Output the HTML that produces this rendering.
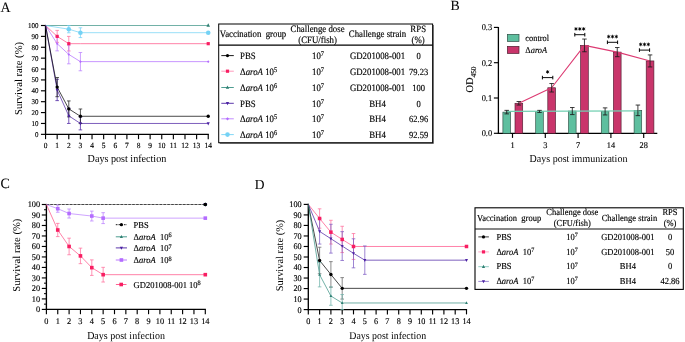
<!DOCTYPE html><html><head><meta charset="utf-8"><style>html,body{margin:0;padding:0;background:#fff;overflow:hidden}svg{display:block;will-change:transform}text{font-family:"Liberation Serif",serif;text-rendering:geometricPrecision;fill:#000;stroke:#000;}</style></head><body>
<svg width="685" height="342" viewBox="0 0 685 342">
<rect width="685" height="342" fill="#fff"/>
<text transform="translate(0.60,11.50) scale(1,1.02)" font-size="14" text-anchor="start" stroke-width="0.04" >A</text>
<line x1="45.55" y1="24.90" x2="45.55" y2="134.95" stroke="#000" stroke-width="1.35" />
<line x1="44.95" y1="134.35" x2="208.83" y2="134.35" stroke="#000" stroke-width="1.35" />
<line x1="40.95" y1="134.35" x2="45.55" y2="134.35" stroke="#000" stroke-width="1.15" />
<text transform="translate(38.55,136.85) scale(1,1.05)" font-size="7" text-anchor="end" stroke-width="0.14" >0</text>
<line x1="40.95" y1="123.46" x2="45.55" y2="123.46" stroke="#000" stroke-width="1.15" />
<text transform="translate(38.55,125.96) scale(1,1.05)" font-size="7" text-anchor="end" stroke-width="0.14" >10</text>
<line x1="40.95" y1="112.58" x2="45.55" y2="112.58" stroke="#000" stroke-width="1.15" />
<text transform="translate(38.55,115.08) scale(1,1.05)" font-size="7" text-anchor="end" stroke-width="0.14" >20</text>
<line x1="40.95" y1="101.69" x2="45.55" y2="101.69" stroke="#000" stroke-width="1.15" />
<text transform="translate(38.55,104.19) scale(1,1.05)" font-size="7" text-anchor="end" stroke-width="0.14" >30</text>
<line x1="40.95" y1="90.81" x2="45.55" y2="90.81" stroke="#000" stroke-width="1.15" />
<text transform="translate(38.55,93.31) scale(1,1.05)" font-size="7" text-anchor="end" stroke-width="0.14" >40</text>
<line x1="40.95" y1="79.92" x2="45.55" y2="79.92" stroke="#000" stroke-width="1.15" />
<text transform="translate(38.55,82.42) scale(1,1.05)" font-size="7" text-anchor="end" stroke-width="0.14" >50</text>
<line x1="40.95" y1="69.04" x2="45.55" y2="69.04" stroke="#000" stroke-width="1.15" />
<text transform="translate(38.55,71.54) scale(1,1.05)" font-size="7" text-anchor="end" stroke-width="0.14" >60</text>
<line x1="40.95" y1="58.15" x2="45.55" y2="58.15" stroke="#000" stroke-width="1.15" />
<text transform="translate(38.55,60.65) scale(1,1.05)" font-size="7" text-anchor="end" stroke-width="0.14" >70</text>
<line x1="40.95" y1="47.27" x2="45.55" y2="47.27" stroke="#000" stroke-width="1.15" />
<text transform="translate(38.55,49.77) scale(1,1.05)" font-size="7" text-anchor="end" stroke-width="0.14" >80</text>
<line x1="40.95" y1="36.38" x2="45.55" y2="36.38" stroke="#000" stroke-width="1.15" />
<text transform="translate(38.55,38.88) scale(1,1.05)" font-size="7" text-anchor="end" stroke-width="0.14" >90</text>
<line x1="40.95" y1="25.50" x2="45.55" y2="25.50" stroke="#000" stroke-width="1.15" />
<text transform="translate(38.55,28.00) scale(1,1.05)" font-size="7" text-anchor="end" stroke-width="0.14" >100</text>
<line x1="45.55" y1="134.35" x2="45.55" y2="139.15" stroke="#000" stroke-width="1.15" />
<text transform="translate(45.55,147.75) scale(1,1.05)" font-size="7.5" text-anchor="middle" stroke-width="0.14" >0</text>
<line x1="57.17" y1="134.35" x2="57.17" y2="139.15" stroke="#000" stroke-width="1.15" />
<text transform="translate(57.17,147.75) scale(1,1.05)" font-size="7.5" text-anchor="middle" stroke-width="0.14" >1</text>
<line x1="68.79" y1="134.35" x2="68.79" y2="139.15" stroke="#000" stroke-width="1.15" />
<text transform="translate(68.79,147.75) scale(1,1.05)" font-size="7.5" text-anchor="middle" stroke-width="0.14" >2</text>
<line x1="80.41" y1="134.35" x2="80.41" y2="139.15" stroke="#000" stroke-width="1.15" />
<text transform="translate(80.41,147.75) scale(1,1.05)" font-size="7.5" text-anchor="middle" stroke-width="0.14" >3</text>
<line x1="92.03" y1="134.35" x2="92.03" y2="139.15" stroke="#000" stroke-width="1.15" />
<text transform="translate(92.03,147.75) scale(1,1.05)" font-size="7.5" text-anchor="middle" stroke-width="0.14" >4</text>
<line x1="103.65" y1="134.35" x2="103.65" y2="139.15" stroke="#000" stroke-width="1.15" />
<text transform="translate(103.65,147.75) scale(1,1.05)" font-size="7.5" text-anchor="middle" stroke-width="0.14" >5</text>
<line x1="115.27" y1="134.35" x2="115.27" y2="139.15" stroke="#000" stroke-width="1.15" />
<text transform="translate(115.27,147.75) scale(1,1.05)" font-size="7.5" text-anchor="middle" stroke-width="0.14" >6</text>
<line x1="126.89" y1="134.35" x2="126.89" y2="139.15" stroke="#000" stroke-width="1.15" />
<text transform="translate(126.89,147.75) scale(1,1.05)" font-size="7.5" text-anchor="middle" stroke-width="0.14" >7</text>
<line x1="138.51" y1="134.35" x2="138.51" y2="139.15" stroke="#000" stroke-width="1.15" />
<text transform="translate(138.51,147.75) scale(1,1.05)" font-size="7.5" text-anchor="middle" stroke-width="0.14" >8</text>
<line x1="150.13" y1="134.35" x2="150.13" y2="139.15" stroke="#000" stroke-width="1.15" />
<text transform="translate(150.13,147.75) scale(1,1.05)" font-size="7.5" text-anchor="middle" stroke-width="0.14" >9</text>
<line x1="161.75" y1="134.35" x2="161.75" y2="139.15" stroke="#000" stroke-width="1.15" />
<text transform="translate(161.75,147.75) scale(1,1.05)" font-size="7.5" text-anchor="middle" stroke-width="0.14" >10</text>
<line x1="173.37" y1="134.35" x2="173.37" y2="139.15" stroke="#000" stroke-width="1.15" />
<text transform="translate(173.37,147.75) scale(1,1.05)" font-size="7.5" text-anchor="middle" stroke-width="0.14" >11</text>
<line x1="184.99" y1="134.35" x2="184.99" y2="139.15" stroke="#000" stroke-width="1.15" />
<text transform="translate(184.99,147.75) scale(1,1.05)" font-size="7.5" text-anchor="middle" stroke-width="0.14" >12</text>
<line x1="196.61" y1="134.35" x2="196.61" y2="139.15" stroke="#000" stroke-width="1.15" />
<text transform="translate(196.61,147.75) scale(1,1.05)" font-size="7.5" text-anchor="middle" stroke-width="0.14" >13</text>
<line x1="208.23" y1="134.35" x2="208.23" y2="139.15" stroke="#000" stroke-width="1.15" />
<text transform="translate(208.23,147.75) scale(1,1.05)" font-size="7.5" text-anchor="middle" stroke-width="0.14" >14</text>
<text transform="translate(21.70,78.50) rotate(-90)" font-size="10.6" text-anchor="middle" stroke-width="0.0" >Survival rate (%)</text>
<text transform="translate(126.95,161.50) scale(1,1.06)" font-size="10.15" text-anchor="middle" stroke-width="0.0" >Days post infection</text>
<polyline points="45.55,25.50 208.23,25.50" fill="none" stroke="#3a9284" stroke-width="0.72" stroke-linejoin="round" />
<polyline points="45.55,25.50 68.79,29.20 80.41,32.68 208.23,32.68" fill="none" stroke="#74d2f5" stroke-width="0.72" stroke-linejoin="round" />
<line x1="68.79" y1="25.61" x2="68.79" y2="32.79" stroke="#74d2f5" stroke-width="0.75" />
<line x1="66.99" y1="25.61" x2="70.59" y2="25.61" stroke="#74d2f5" stroke-width="0.75" />
<line x1="66.99" y1="32.79" x2="70.59" y2="32.79" stroke="#74d2f5" stroke-width="0.75" />
<line x1="80.41" y1="27.79" x2="80.41" y2="37.58" stroke="#74d2f5" stroke-width="0.75" />
<line x1="78.61" y1="27.79" x2="82.21" y2="27.79" stroke="#74d2f5" stroke-width="0.75" />
<line x1="78.61" y1="37.58" x2="82.21" y2="37.58" stroke="#74d2f5" stroke-width="0.75" />
<polyline points="45.55,25.50 57.17,36.38 68.79,43.68 80.41,43.68 208.23,43.68" fill="none" stroke="#ff4f86" stroke-width="0.72" stroke-linejoin="round" />
<line x1="57.17" y1="30.40" x2="57.17" y2="42.37" stroke="#ff6f9c" stroke-width="0.75" />
<line x1="55.37" y1="30.40" x2="58.97" y2="30.40" stroke="#ff6f9c" stroke-width="0.75" />
<line x1="55.37" y1="42.37" x2="58.97" y2="42.37" stroke="#ff6f9c" stroke-width="0.75" />
<line x1="68.79" y1="36.38" x2="68.79" y2="50.97" stroke="#ff6f9c" stroke-width="0.75" />
<line x1="66.99" y1="36.38" x2="70.59" y2="36.38" stroke="#ff6f9c" stroke-width="0.75" />
<line x1="66.99" y1="50.97" x2="70.59" y2="50.97" stroke="#ff6f9c" stroke-width="0.75" />
<polyline points="45.55,25.50 57.17,43.68 68.79,54.45 80.41,61.64 208.23,61.64" fill="none" stroke="#b46cff" stroke-width="0.72" stroke-linejoin="round" />
<line x1="57.17" y1="36.49" x2="57.17" y2="50.86" stroke="#bb80ff" stroke-width="0.75" />
<line x1="55.37" y1="36.49" x2="58.97" y2="36.49" stroke="#bb80ff" stroke-width="0.75" />
<line x1="55.37" y1="50.86" x2="58.97" y2="50.86" stroke="#bb80ff" stroke-width="0.75" />
<line x1="68.79" y1="45.09" x2="68.79" y2="63.82" stroke="#bb80ff" stroke-width="0.75" />
<line x1="66.99" y1="45.09" x2="70.59" y2="45.09" stroke="#bb80ff" stroke-width="0.75" />
<line x1="66.99" y1="63.82" x2="70.59" y2="63.82" stroke="#bb80ff" stroke-width="0.75" />
<line x1="80.41" y1="52.49" x2="80.41" y2="70.78" stroke="#bb80ff" stroke-width="0.75" />
<line x1="78.61" y1="52.49" x2="82.21" y2="52.49" stroke="#bb80ff" stroke-width="0.75" />
<line x1="78.61" y1="70.78" x2="82.21" y2="70.78" stroke="#bb80ff" stroke-width="0.75" />
<polyline points="45.55,25.50 57.17,89.94 68.79,115.85 80.41,123.46 208.23,123.46" fill="none" stroke="#4b21a3" stroke-width="0.72" stroke-linejoin="round" />
<line x1="57.17" y1="79.27" x2="57.17" y2="100.61" stroke="#4b21a3" stroke-width="0.75" />
<line x1="55.37" y1="79.27" x2="58.97" y2="79.27" stroke="#4b21a3" stroke-width="0.75" />
<line x1="55.37" y1="100.61" x2="58.97" y2="100.61" stroke="#4b21a3" stroke-width="0.75" />
<line x1="68.79" y1="108.23" x2="68.79" y2="123.46" stroke="#4b21a3" stroke-width="0.75" />
<line x1="66.99" y1="108.23" x2="70.59" y2="108.23" stroke="#4b21a3" stroke-width="0.75" />
<line x1="66.99" y1="123.46" x2="70.59" y2="123.46" stroke="#4b21a3" stroke-width="0.75" />
<line x1="80.41" y1="117.04" x2="80.41" y2="129.89" stroke="#4b21a3" stroke-width="0.75" />
<line x1="78.61" y1="117.04" x2="82.21" y2="117.04" stroke="#4b21a3" stroke-width="0.75" />
<line x1="78.61" y1="129.89" x2="82.21" y2="129.89" stroke="#4b21a3" stroke-width="0.75" />
<polyline points="45.55,25.50 57.17,87.11 68.79,108.88 80.41,116.28 208.23,116.28" fill="none" stroke="#000000" stroke-width="0.72" stroke-linejoin="round" />
<line x1="57.17" y1="77.53" x2="57.17" y2="96.69" stroke="#222" stroke-width="0.75" />
<line x1="55.37" y1="77.53" x2="58.97" y2="77.53" stroke="#222" stroke-width="0.75" />
<line x1="55.37" y1="96.69" x2="58.97" y2="96.69" stroke="#222" stroke-width="0.75" />
<line x1="68.79" y1="100.93" x2="68.79" y2="116.83" stroke="#222" stroke-width="0.75" />
<line x1="66.99" y1="100.93" x2="70.59" y2="100.93" stroke="#222" stroke-width="0.75" />
<line x1="66.99" y1="116.83" x2="70.59" y2="116.83" stroke="#222" stroke-width="0.75" />
<line x1="80.41" y1="108.99" x2="80.41" y2="123.57" stroke="#222" stroke-width="0.75" />
<line x1="78.61" y1="108.99" x2="82.21" y2="108.99" stroke="#222" stroke-width="0.75" />
<line x1="78.61" y1="123.57" x2="82.21" y2="123.57" stroke="#222" stroke-width="0.75" />
<polygon points="208.23,23.34 206.43,26.85 210.03,26.85" fill="#2f7f72"/>
<circle cx="68.79" cy="29.20" r="2.30" fill="#74d2f5"/>
<circle cx="80.41" cy="32.68" r="2.30" fill="#74d2f5"/>
<circle cx="208.23" cy="32.68" r="2.30" fill="#74d2f5"/>
<rect x="55.57" y="34.78" width="3.20" height="3.20" fill="#f81e62"/>
<rect x="67.19" y="42.08" width="3.20" height="3.20" fill="#f81e62"/>
<rect x="206.63" y="42.08" width="3.20" height="3.20" fill="#f81e62"/>
<polygon points="57.17,42.38 58.47,43.68 57.17,44.98 55.87,43.68" fill="#b46cff"/>
<polygon points="68.79,53.15 70.09,54.45 68.79,55.75 67.49,54.45" fill="#b46cff"/>
<polygon points="80.41,60.34 81.71,61.64 80.41,62.94 79.11,61.64" fill="#b46cff"/>
<polygon points="208.23,60.34 209.53,61.64 208.23,62.94 206.93,61.64" fill="#b46cff"/>
<polygon points="57.17,91.86 55.57,88.74 58.77,88.74" fill="#4b21a3"/>
<polygon points="68.79,117.77 67.19,114.65 70.39,114.65" fill="#4b21a3"/>
<polygon points="80.41,125.38 78.81,122.26 82.01,122.26" fill="#4b21a3"/>
<polygon points="208.23,125.38 206.63,122.26 209.83,122.26" fill="#4b21a3"/>
<circle cx="57.17" cy="87.11" r="1.70" fill="#000000"/>
<circle cx="68.79" cy="108.88" r="1.70" fill="#000000"/>
<circle cx="80.41" cy="116.28" r="1.70" fill="#000000"/>
<circle cx="208.23" cy="116.28" r="1.70" fill="#000000"/>
<rect x="218.7" y="24.0" width="213.90000000000003" height="118.69999999999999" fill="none" stroke="#000" stroke-width="1.0"/>
<line x1="433.40" y1="25.00" x2="433.40" y2="143.50" stroke="#555" stroke-width="0.9" />
<line x1="219.70" y1="143.50" x2="433.40" y2="143.50" stroke="#555" stroke-width="0.9" />
<line x1="218.70" y1="45.10" x2="432.60" y2="45.10" stroke="#000" stroke-width="1.1" />
<text transform="translate(219.80,37.00) scale(1,1.1)" font-size="8.8" text-anchor="start" stroke-width="0.14" >Vaccination&#160;&#160;group</text>
<text transform="translate(317.60,31.50) scale(1,1.1)" font-size="8.8" text-anchor="middle" stroke-width="0.14" >Challenge dose</text>
<text transform="translate(317.60,42.90) scale(1,1.1)" font-size="8.8" text-anchor="middle" stroke-width="0.14" >(CFU/fish)</text>
<text transform="translate(377.50,37.00) scale(1,1.1)" font-size="8.8" text-anchor="middle" stroke-width="0.14" >Challenge strain</text>
<text transform="translate(418.20,31.50) scale(1,1.1)" font-size="8.8" text-anchor="middle" stroke-width="0.14" >RPS</text>
<text transform="translate(418.20,42.90) scale(1,1.1)" font-size="8.8" text-anchor="middle" stroke-width="0.14" >(%)</text>
<line x1="221.30" y1="55.60" x2="233.80" y2="55.60" stroke="#000000" stroke-width="0.9" />
<circle cx="227.50" cy="55.60" r="1.60" fill="#000000"/>
<text transform="translate(240.00,58.90) scale(1,1.1)" font-size="8.8" text-anchor="start" stroke-width="0.14" >PBS</text>
<text transform="translate(318.00,58.90) scale(1,1.1)" font-size="8.8" text-anchor="middle" stroke-width="0.14" >10<tspan dy="-2.6" font-size="6.4">7</tspan></text>
<text transform="translate(377.50,58.90) scale(1,1.1)" font-size="8.8" text-anchor="middle" stroke-width="0.14" >GD201008-001</text>
<text transform="translate(418.60,58.90) scale(1,1.1)" font-size="8.5" text-anchor="middle" stroke-width="0.14" >0</text>
<line x1="221.30" y1="71.20" x2="233.80" y2="71.20" stroke="#ff8fb5" stroke-width="0.9" />
<rect x="225.90" y="69.60" width="3.20" height="3.20" fill="#f81e62"/>
<text transform="translate(240.00,74.50) scale(1,1.1)" font-size="8.8" text-anchor="start" stroke-width="0.14" >&#916;<tspan font-style="italic">aroA</tspan> 10<tspan dy="-2.6" font-size="6.4">5</tspan></text>
<text transform="translate(318.00,74.50) scale(1,1.1)" font-size="8.8" text-anchor="middle" stroke-width="0.14" >10<tspan dy="-2.6" font-size="6.4">7</tspan></text>
<text transform="translate(377.50,74.50) scale(1,1.1)" font-size="8.8" text-anchor="middle" stroke-width="0.14" >GD201008-001</text>
<text transform="translate(418.60,74.50) scale(1,1.1)" font-size="8.5" text-anchor="middle" stroke-width="0.14" >79.23</text>
<line x1="221.30" y1="87.50" x2="233.80" y2="87.50" stroke="#3a9284" stroke-width="0.9" />
<polygon points="227.50,85.46 225.80,88.78 229.20,88.78" fill="#2f7f72"/>
<text transform="translate(240.00,90.80) scale(1,1.1)" font-size="8.8" text-anchor="start" stroke-width="0.14" >&#916;<tspan font-style="italic">aroA</tspan> 10<tspan dy="-2.6" font-size="6.4">6</tspan></text>
<text transform="translate(318.00,90.80) scale(1,1.1)" font-size="8.8" text-anchor="middle" stroke-width="0.14" >10<tspan dy="-2.6" font-size="6.4">7</tspan></text>
<text transform="translate(377.50,90.80) scale(1,1.1)" font-size="8.8" text-anchor="middle" stroke-width="0.14" >GD201008-001</text>
<text transform="translate(418.60,90.80) scale(1,1.1)" font-size="8.5" text-anchor="middle" stroke-width="0.14" >100</text>
<line x1="221.30" y1="103.30" x2="233.80" y2="103.30" stroke="#4b21a3" stroke-width="0.9" />
<polygon points="227.50,105.22 225.90,102.10 229.10,102.10" fill="#4b21a3"/>
<text transform="translate(240.00,106.60) scale(1,1.1)" font-size="8.8" text-anchor="start" stroke-width="0.14" >PBS</text>
<text transform="translate(318.00,106.60) scale(1,1.1)" font-size="8.8" text-anchor="middle" stroke-width="0.14" >10<tspan dy="-2.6" font-size="6.4">7</tspan></text>
<text transform="translate(377.50,106.60) scale(1,1.1)" font-size="8.8" text-anchor="middle" stroke-width="0.14" >BH4</text>
<text transform="translate(418.60,106.60) scale(1,1.1)" font-size="8.5" text-anchor="middle" stroke-width="0.14" >0</text>
<line x1="221.30" y1="118.80" x2="233.80" y2="118.80" stroke="#bb80ff" stroke-width="0.9" />
<polygon points="227.50,117.20 229.10,118.80 227.50,120.40 225.90,118.80" fill="#b46cff"/>
<text transform="translate(240.00,122.10) scale(1,1.1)" font-size="8.8" text-anchor="start" stroke-width="0.14" >&#916;<tspan font-style="italic">aroA</tspan> 10<tspan dy="-2.6" font-size="6.4">5</tspan></text>
<text transform="translate(318.00,122.10) scale(1,1.1)" font-size="8.8" text-anchor="middle" stroke-width="0.14" >10<tspan dy="-2.6" font-size="6.4">7</tspan></text>
<text transform="translate(377.50,122.10) scale(1,1.1)" font-size="8.8" text-anchor="middle" stroke-width="0.14" >BH4</text>
<text transform="translate(418.60,122.10) scale(1,1.1)" font-size="8.5" text-anchor="middle" stroke-width="0.14" >62.96</text>
<line x1="221.30" y1="134.60" x2="233.80" y2="134.60" stroke="#74d2f5" stroke-width="0.9" />
<circle cx="227.50" cy="134.60" r="2.30" fill="#74d2f5"/>
<text transform="translate(240.00,137.90) scale(1,1.1)" font-size="8.8" text-anchor="start" stroke-width="0.14" >&#916;<tspan font-style="italic">aroA</tspan> 10<tspan dy="-2.6" font-size="6.4">6</tspan></text>
<text transform="translate(318.00,137.90) scale(1,1.1)" font-size="8.8" text-anchor="middle" stroke-width="0.14" >10<tspan dy="-2.6" font-size="6.4">7</tspan></text>
<text transform="translate(377.50,137.90) scale(1,1.1)" font-size="8.8" text-anchor="middle" stroke-width="0.14" >BH4</text>
<text transform="translate(418.60,137.90) scale(1,1.1)" font-size="8.5" text-anchor="middle" stroke-width="0.14" >92.59</text>
<text transform="translate(450.50,9.80) scale(1,1.02)" font-size="13.8" text-anchor="start" stroke-width="0.04" >B</text>
<line x1="498.40" y1="27.00" x2="498.40" y2="133.90" stroke="#000" stroke-width="1.3" />
<line x1="497.80" y1="133.30" x2="657.30" y2="133.30" stroke="#000" stroke-width="1.3" />
<line x1="493.90" y1="133.30" x2="498.40" y2="133.30" stroke="#000" stroke-width="1.15" />
<text transform="translate(492.10,136.25) scale(1,1.05)" font-size="8.4" text-anchor="end" stroke-width="0.14" >0.0</text>
<line x1="493.90" y1="98.00" x2="498.40" y2="98.00" stroke="#000" stroke-width="1.15" />
<text transform="translate(492.10,100.95) scale(1,1.05)" font-size="8.4" text-anchor="end" stroke-width="0.14" >0.1</text>
<line x1="493.90" y1="62.70" x2="498.40" y2="62.70" stroke="#000" stroke-width="1.15" />
<text transform="translate(492.10,65.65) scale(1,1.05)" font-size="8.4" text-anchor="end" stroke-width="0.14" >0.2</text>
<line x1="493.90" y1="27.40" x2="498.40" y2="27.40" stroke="#000" stroke-width="1.15" />
<text transform="translate(492.10,30.35) scale(1,1.05)" font-size="8.4" text-anchor="end" stroke-width="0.14" >0.3</text>
<line x1="512.50" y1="133.30" x2="512.50" y2="137.90" stroke="#000" stroke-width="1.15" />
<text transform="translate(512.50,147.70) scale(1,1.05)" font-size="8.3" text-anchor="middle" stroke-width="0.14" >1</text>
<rect x="502.90" y="112.12" width="7.6" height="21.18" fill="#5ebf9f" stroke="#2d4f44" stroke-width="0.65"/>
<rect x="515.00" y="103.30" width="7.7" height="30.01" fill="#c9356b" stroke="#4f1d30" stroke-width="0.65"/>
<line x1="545.30" y1="133.30" x2="545.30" y2="137.90" stroke="#000" stroke-width="1.15" />
<text transform="translate(545.30,147.70) scale(1,1.05)" font-size="8.3" text-anchor="middle" stroke-width="0.14" >3</text>
<rect x="535.70" y="111.41" width="7.6" height="21.89" fill="#5ebf9f" stroke="#2d4f44" stroke-width="0.65"/>
<rect x="547.80" y="87.76" width="7.7" height="45.54" fill="#c9356b" stroke="#4f1d30" stroke-width="0.65"/>
<line x1="578.10" y1="133.30" x2="578.10" y2="137.90" stroke="#000" stroke-width="1.15" />
<text transform="translate(578.10,147.70) scale(1,1.05)" font-size="8.3" text-anchor="middle" stroke-width="0.14" >7</text>
<rect x="568.50" y="111.06" width="7.6" height="22.24" fill="#5ebf9f" stroke="#2d4f44" stroke-width="0.65"/>
<rect x="580.60" y="45.40" width="7.7" height="87.90" fill="#c9356b" stroke="#4f1d30" stroke-width="0.65"/>
<line x1="610.90" y1="133.30" x2="610.90" y2="137.90" stroke="#000" stroke-width="1.15" />
<text transform="translate(610.90,147.70) scale(1,1.05)" font-size="8.3" text-anchor="middle" stroke-width="0.14" >14</text>
<rect x="601.30" y="111.41" width="7.6" height="21.89" fill="#5ebf9f" stroke="#2d4f44" stroke-width="0.65"/>
<rect x="613.40" y="52.11" width="7.7" height="81.19" fill="#c9356b" stroke="#4f1d30" stroke-width="0.65"/>
<line x1="643.70" y1="133.30" x2="643.70" y2="137.90" stroke="#000" stroke-width="1.15" />
<text transform="translate(643.70,147.70) scale(1,1.05)" font-size="8.3" text-anchor="middle" stroke-width="0.14" >28</text>
<rect x="634.10" y="110.36" width="7.6" height="22.95" fill="#5ebf9f" stroke="#2d4f44" stroke-width="0.65"/>
<rect x="646.20" y="60.94" width="7.7" height="72.36" fill="#c9356b" stroke="#4f1d30" stroke-width="0.65"/>
<polyline points="506.30,111.40 639.00,110.90" fill="none" stroke="#72d0b2" stroke-width="1.2" stroke-linejoin="round" />
<polyline points="518.85,103.30 551.65,87.76 584.45,45.40 617.25,52.11 650.05,60.94" fill="none" stroke="#dc3a72" stroke-width="1.1" stroke-linejoin="round" />
<line x1="506.70" y1="110.36" x2="506.70" y2="113.89" stroke="#1a1a1a" stroke-width="0.85" />
<line x1="504.45" y1="110.36" x2="508.95" y2="110.36" stroke="#1a1a1a" stroke-width="0.85" />
<line x1="504.45" y1="113.89" x2="508.95" y2="113.89" stroke="#1a1a1a" stroke-width="0.85" />
<line x1="518.85" y1="101.53" x2="518.85" y2="105.06" stroke="#1a1a1a" stroke-width="0.85" />
<line x1="516.60" y1="101.53" x2="521.10" y2="101.53" stroke="#1a1a1a" stroke-width="0.85" />
<line x1="516.60" y1="105.06" x2="521.10" y2="105.06" stroke="#1a1a1a" stroke-width="0.85" />
<line x1="539.50" y1="110.36" x2="539.50" y2="112.47" stroke="#1a1a1a" stroke-width="0.85" />
<line x1="537.25" y1="110.36" x2="541.75" y2="110.36" stroke="#1a1a1a" stroke-width="0.85" />
<line x1="537.25" y1="112.47" x2="541.75" y2="112.47" stroke="#1a1a1a" stroke-width="0.85" />
<line x1="551.65" y1="83.53" x2="551.65" y2="92.00" stroke="#1a1a1a" stroke-width="0.85" />
<line x1="549.40" y1="83.53" x2="553.90" y2="83.53" stroke="#1a1a1a" stroke-width="0.85" />
<line x1="549.40" y1="92.00" x2="553.90" y2="92.00" stroke="#1a1a1a" stroke-width="0.85" />
<line x1="572.30" y1="107.53" x2="572.30" y2="114.59" stroke="#1a1a1a" stroke-width="0.85" />
<line x1="570.05" y1="107.53" x2="574.55" y2="107.53" stroke="#1a1a1a" stroke-width="0.85" />
<line x1="570.05" y1="114.59" x2="574.55" y2="114.59" stroke="#1a1a1a" stroke-width="0.85" />
<line x1="584.45" y1="39.05" x2="584.45" y2="51.76" stroke="#1a1a1a" stroke-width="0.85" />
<line x1="582.20" y1="39.05" x2="586.70" y2="39.05" stroke="#1a1a1a" stroke-width="0.85" />
<line x1="582.20" y1="51.76" x2="586.70" y2="51.76" stroke="#1a1a1a" stroke-width="0.85" />
<line x1="605.10" y1="107.88" x2="605.10" y2="114.94" stroke="#1a1a1a" stroke-width="0.85" />
<line x1="602.85" y1="107.88" x2="607.35" y2="107.88" stroke="#1a1a1a" stroke-width="0.85" />
<line x1="602.85" y1="114.94" x2="607.35" y2="114.94" stroke="#1a1a1a" stroke-width="0.85" />
<line x1="617.25" y1="47.52" x2="617.25" y2="56.70" stroke="#1a1a1a" stroke-width="0.85" />
<line x1="615.00" y1="47.52" x2="619.50" y2="47.52" stroke="#1a1a1a" stroke-width="0.85" />
<line x1="615.00" y1="56.70" x2="619.50" y2="56.70" stroke="#1a1a1a" stroke-width="0.85" />
<line x1="637.90" y1="105.06" x2="637.90" y2="115.65" stroke="#1a1a1a" stroke-width="0.85" />
<line x1="635.65" y1="105.06" x2="640.15" y2="105.06" stroke="#1a1a1a" stroke-width="0.85" />
<line x1="635.65" y1="115.65" x2="640.15" y2="115.65" stroke="#1a1a1a" stroke-width="0.85" />
<line x1="650.05" y1="54.93" x2="650.05" y2="66.94" stroke="#1a1a1a" stroke-width="0.85" />
<line x1="647.80" y1="54.93" x2="652.30" y2="54.93" stroke="#1a1a1a" stroke-width="0.85" />
<line x1="647.80" y1="66.94" x2="652.30" y2="66.94" stroke="#1a1a1a" stroke-width="0.85" />
<line x1="542.40" y1="77.60" x2="552.80" y2="77.60" stroke="#000" stroke-width="0.95" />
<line x1="542.40" y1="75.80" x2="542.40" y2="79.40" stroke="#000" stroke-width="1.0" />
<line x1="552.80" y1="75.80" x2="552.80" y2="79.40" stroke="#000" stroke-width="1.0" />
<line x1="547.60" y1="70.05" x2="547.60" y2="73.75" stroke="#000" stroke-width="0.75" />
<line x1="546.00" y1="70.98" x2="549.20" y2="72.83" stroke="#000" stroke-width="0.75" />
<line x1="546.00" y1="72.83" x2="549.20" y2="70.98" stroke="#000" stroke-width="0.75" />
<circle cx="547.60" cy="71.90" r="0.9" fill="#000"/>
<line x1="574.80" y1="34.70" x2="584.80" y2="34.70" stroke="#000" stroke-width="0.95" />
<line x1="574.80" y1="32.90" x2="574.80" y2="36.50" stroke="#000" stroke-width="1.0" />
<line x1="584.80" y1="32.90" x2="584.80" y2="36.50" stroke="#000" stroke-width="1.0" />
<line x1="575.95" y1="27.05" x2="575.95" y2="30.75" stroke="#000" stroke-width="0.75" />
<line x1="574.35" y1="27.97" x2="577.55" y2="29.82" stroke="#000" stroke-width="0.75" />
<line x1="574.35" y1="29.82" x2="577.55" y2="27.97" stroke="#000" stroke-width="0.75" />
<circle cx="575.95" cy="28.90" r="0.9" fill="#000"/>
<line x1="579.80" y1="27.05" x2="579.80" y2="30.75" stroke="#000" stroke-width="0.75" />
<line x1="578.20" y1="27.97" x2="581.40" y2="29.82" stroke="#000" stroke-width="0.75" />
<line x1="578.20" y1="29.82" x2="581.40" y2="27.97" stroke="#000" stroke-width="0.75" />
<circle cx="579.80" cy="28.90" r="0.9" fill="#000"/>
<line x1="583.65" y1="27.05" x2="583.65" y2="30.75" stroke="#000" stroke-width="0.75" />
<line x1="582.05" y1="27.97" x2="585.25" y2="29.82" stroke="#000" stroke-width="0.75" />
<line x1="582.05" y1="29.82" x2="585.25" y2="27.97" stroke="#000" stroke-width="0.75" />
<circle cx="583.65" cy="28.90" r="0.9" fill="#000"/>
<line x1="607.40" y1="42.30" x2="617.60" y2="42.30" stroke="#000" stroke-width="0.95" />
<line x1="607.40" y1="40.50" x2="607.40" y2="44.10" stroke="#000" stroke-width="1.0" />
<line x1="617.60" y1="40.50" x2="617.60" y2="44.10" stroke="#000" stroke-width="1.0" />
<line x1="608.65" y1="34.75" x2="608.65" y2="38.45" stroke="#000" stroke-width="0.75" />
<line x1="607.05" y1="35.68" x2="610.25" y2="37.52" stroke="#000" stroke-width="0.75" />
<line x1="607.05" y1="37.52" x2="610.25" y2="35.68" stroke="#000" stroke-width="0.75" />
<circle cx="608.65" cy="36.60" r="0.9" fill="#000"/>
<line x1="612.50" y1="34.75" x2="612.50" y2="38.45" stroke="#000" stroke-width="0.75" />
<line x1="610.90" y1="35.68" x2="614.10" y2="37.52" stroke="#000" stroke-width="0.75" />
<line x1="610.90" y1="37.52" x2="614.10" y2="35.68" stroke="#000" stroke-width="0.75" />
<circle cx="612.50" cy="36.60" r="0.9" fill="#000"/>
<line x1="616.35" y1="34.75" x2="616.35" y2="38.45" stroke="#000" stroke-width="0.75" />
<line x1="614.75" y1="35.68" x2="617.95" y2="37.52" stroke="#000" stroke-width="0.75" />
<line x1="614.75" y1="37.52" x2="617.95" y2="35.68" stroke="#000" stroke-width="0.75" />
<circle cx="616.35" cy="36.60" r="0.9" fill="#000"/>
<line x1="639.40" y1="50.10" x2="649.60" y2="50.10" stroke="#000" stroke-width="0.95" />
<line x1="639.40" y1="48.30" x2="639.40" y2="51.90" stroke="#000" stroke-width="1.0" />
<line x1="649.60" y1="48.30" x2="649.60" y2="51.90" stroke="#000" stroke-width="1.0" />
<line x1="640.65" y1="42.55" x2="640.65" y2="46.25" stroke="#000" stroke-width="0.75" />
<line x1="639.05" y1="43.48" x2="642.25" y2="45.32" stroke="#000" stroke-width="0.75" />
<line x1="639.05" y1="45.32" x2="642.25" y2="43.48" stroke="#000" stroke-width="0.75" />
<circle cx="640.65" cy="44.40" r="0.9" fill="#000"/>
<line x1="644.50" y1="42.55" x2="644.50" y2="46.25" stroke="#000" stroke-width="0.75" />
<line x1="642.90" y1="43.48" x2="646.10" y2="45.32" stroke="#000" stroke-width="0.75" />
<line x1="642.90" y1="45.32" x2="646.10" y2="43.48" stroke="#000" stroke-width="0.75" />
<circle cx="644.50" cy="44.40" r="0.9" fill="#000"/>
<line x1="648.35" y1="42.55" x2="648.35" y2="46.25" stroke="#000" stroke-width="0.75" />
<line x1="646.75" y1="43.48" x2="649.95" y2="45.32" stroke="#000" stroke-width="0.75" />
<line x1="646.75" y1="45.32" x2="649.95" y2="43.48" stroke="#000" stroke-width="0.75" />
<circle cx="648.35" cy="44.40" r="0.9" fill="#000"/>
<rect x="507.4" y="34.4" width="11.6" height="7.0" fill="#5ebf9f" stroke="#2d4f44" stroke-width="0.7"/>
<rect x="507.4" y="46.4" width="11.6" height="7.0" fill="#c9356b" stroke="#4f1d30" stroke-width="0.7"/>
<text transform="translate(525.30,40.60) scale(1,1.06)" font-size="8.4" text-anchor="start" stroke-width="0.14" >control</text>
<text transform="translate(525.30,52.60) scale(1,1.06)" font-size="8.4" text-anchor="start" stroke-width="0.14" >&#916;<tspan font-style="italic">aroA</tspan></text>
<text transform="translate(472.8,79.5) rotate(-90)" font-size="10.4" text-anchor="middle" stroke-width="0.12">OD<tspan font-size="7.4" dy="3">450</tspan></text>
<text transform="translate(578.50,161.60) scale(1,1.06)" font-size="10" text-anchor="middle" stroke-width="0.0" >Days post immunization</text>
<text transform="translate(0.60,188.30) scale(1,1.02)" font-size="14" text-anchor="start" stroke-width="0.04" >C</text>
<line x1="46.40" y1="203.90" x2="46.40" y2="310.00" stroke="#000" stroke-width="1.35" />
<line x1="45.80" y1="309.40" x2="205.90" y2="309.40" stroke="#000" stroke-width="1.35" />
<line x1="41.80" y1="309.40" x2="46.40" y2="309.40" stroke="#000" stroke-width="1.15" />
<text transform="translate(40.10,312.36) scale(1,1.05)" font-size="8.3" text-anchor="end" stroke-width="0.14" >0</text>
<line x1="41.80" y1="298.91" x2="46.40" y2="298.91" stroke="#000" stroke-width="1.15" />
<text transform="translate(40.10,301.87) scale(1,1.05)" font-size="8.3" text-anchor="end" stroke-width="0.14" >10</text>
<line x1="41.80" y1="288.42" x2="46.40" y2="288.42" stroke="#000" stroke-width="1.15" />
<text transform="translate(40.10,291.38) scale(1,1.05)" font-size="8.3" text-anchor="end" stroke-width="0.14" >20</text>
<line x1="41.80" y1="277.93" x2="46.40" y2="277.93" stroke="#000" stroke-width="1.15" />
<text transform="translate(40.10,280.89) scale(1,1.05)" font-size="8.3" text-anchor="end" stroke-width="0.14" >30</text>
<line x1="41.80" y1="267.44" x2="46.40" y2="267.44" stroke="#000" stroke-width="1.15" />
<text transform="translate(40.10,270.40) scale(1,1.05)" font-size="8.3" text-anchor="end" stroke-width="0.14" >40</text>
<line x1="41.80" y1="256.95" x2="46.40" y2="256.95" stroke="#000" stroke-width="1.15" />
<text transform="translate(40.10,259.91) scale(1,1.05)" font-size="8.3" text-anchor="end" stroke-width="0.14" >50</text>
<line x1="41.80" y1="246.46" x2="46.40" y2="246.46" stroke="#000" stroke-width="1.15" />
<text transform="translate(40.10,249.42) scale(1,1.05)" font-size="8.3" text-anchor="end" stroke-width="0.14" >60</text>
<line x1="41.80" y1="235.97" x2="46.40" y2="235.97" stroke="#000" stroke-width="1.15" />
<text transform="translate(40.10,238.93) scale(1,1.05)" font-size="8.3" text-anchor="end" stroke-width="0.14" >70</text>
<line x1="41.80" y1="225.48" x2="46.40" y2="225.48" stroke="#000" stroke-width="1.15" />
<text transform="translate(40.10,228.44) scale(1,1.05)" font-size="8.3" text-anchor="end" stroke-width="0.14" >80</text>
<line x1="41.80" y1="214.99" x2="46.40" y2="214.99" stroke="#000" stroke-width="1.15" />
<text transform="translate(40.10,217.95) scale(1,1.05)" font-size="8.3" text-anchor="end" stroke-width="0.14" >90</text>
<line x1="41.80" y1="204.50" x2="46.40" y2="204.50" stroke="#000" stroke-width="1.15" />
<text transform="translate(40.10,207.46) scale(1,1.05)" font-size="8.3" text-anchor="end" stroke-width="0.14" >100</text>
<line x1="44.00" y1="304.15" x2="46.40" y2="304.15" stroke="#000" stroke-width="1.0" />
<line x1="44.00" y1="293.66" x2="46.40" y2="293.66" stroke="#000" stroke-width="1.0" />
<line x1="44.00" y1="283.17" x2="46.40" y2="283.17" stroke="#000" stroke-width="1.0" />
<line x1="44.00" y1="272.69" x2="46.40" y2="272.69" stroke="#000" stroke-width="1.0" />
<line x1="44.00" y1="262.19" x2="46.40" y2="262.19" stroke="#000" stroke-width="1.0" />
<line x1="44.00" y1="251.70" x2="46.40" y2="251.70" stroke="#000" stroke-width="1.0" />
<line x1="44.00" y1="241.21" x2="46.40" y2="241.21" stroke="#000" stroke-width="1.0" />
<line x1="44.00" y1="230.72" x2="46.40" y2="230.72" stroke="#000" stroke-width="1.0" />
<line x1="44.00" y1="220.23" x2="46.40" y2="220.23" stroke="#000" stroke-width="1.0" />
<line x1="44.00" y1="209.75" x2="46.40" y2="209.75" stroke="#000" stroke-width="1.0" />
<line x1="46.40" y1="309.40" x2="46.40" y2="314.20" stroke="#000" stroke-width="1.15" />
<text transform="translate(46.40,324.20) scale(1,1.05)" font-size="8.3" text-anchor="middle" stroke-width="0.14" >0</text>
<line x1="57.75" y1="309.40" x2="57.75" y2="314.20" stroke="#000" stroke-width="1.15" />
<text transform="translate(57.75,324.20) scale(1,1.05)" font-size="8.3" text-anchor="middle" stroke-width="0.14" >1</text>
<line x1="69.10" y1="309.40" x2="69.10" y2="314.20" stroke="#000" stroke-width="1.15" />
<text transform="translate(69.10,324.20) scale(1,1.05)" font-size="8.3" text-anchor="middle" stroke-width="0.14" >2</text>
<line x1="80.45" y1="309.40" x2="80.45" y2="314.20" stroke="#000" stroke-width="1.15" />
<text transform="translate(80.45,324.20) scale(1,1.05)" font-size="8.3" text-anchor="middle" stroke-width="0.14" >3</text>
<line x1="91.80" y1="309.40" x2="91.80" y2="314.20" stroke="#000" stroke-width="1.15" />
<text transform="translate(91.80,324.20) scale(1,1.05)" font-size="8.3" text-anchor="middle" stroke-width="0.14" >4</text>
<line x1="103.15" y1="309.40" x2="103.15" y2="314.20" stroke="#000" stroke-width="1.15" />
<text transform="translate(103.15,324.20) scale(1,1.05)" font-size="8.3" text-anchor="middle" stroke-width="0.14" >5</text>
<line x1="114.50" y1="309.40" x2="114.50" y2="314.20" stroke="#000" stroke-width="1.15" />
<text transform="translate(114.50,324.20) scale(1,1.05)" font-size="8.3" text-anchor="middle" stroke-width="0.14" >6</text>
<line x1="125.85" y1="309.40" x2="125.85" y2="314.20" stroke="#000" stroke-width="1.15" />
<text transform="translate(125.85,324.20) scale(1,1.05)" font-size="8.3" text-anchor="middle" stroke-width="0.14" >7</text>
<line x1="137.20" y1="309.40" x2="137.20" y2="314.20" stroke="#000" stroke-width="1.15" />
<text transform="translate(137.20,324.20) scale(1,1.05)" font-size="8.3" text-anchor="middle" stroke-width="0.14" >8</text>
<line x1="148.55" y1="309.40" x2="148.55" y2="314.20" stroke="#000" stroke-width="1.15" />
<text transform="translate(148.55,324.20) scale(1,1.05)" font-size="8.3" text-anchor="middle" stroke-width="0.14" >9</text>
<line x1="159.90" y1="309.40" x2="159.90" y2="314.20" stroke="#000" stroke-width="1.15" />
<text transform="translate(159.90,324.20) scale(1,1.05)" font-size="8.3" text-anchor="middle" stroke-width="0.14" >10</text>
<line x1="171.25" y1="309.40" x2="171.25" y2="314.20" stroke="#000" stroke-width="1.15" />
<text transform="translate(171.25,324.20) scale(1,1.05)" font-size="8.3" text-anchor="middle" stroke-width="0.14" >11</text>
<line x1="182.60" y1="309.40" x2="182.60" y2="314.20" stroke="#000" stroke-width="1.15" />
<text transform="translate(182.60,324.20) scale(1,1.05)" font-size="8.3" text-anchor="middle" stroke-width="0.14" >12</text>
<line x1="193.95" y1="309.40" x2="193.95" y2="314.20" stroke="#000" stroke-width="1.15" />
<text transform="translate(193.95,324.20) scale(1,1.05)" font-size="8.3" text-anchor="middle" stroke-width="0.14" >13</text>
<line x1="205.30" y1="309.40" x2="205.30" y2="314.20" stroke="#000" stroke-width="1.15" />
<text transform="translate(205.30,324.20) scale(1,1.05)" font-size="8.3" text-anchor="middle" stroke-width="0.14" >14</text>
<text transform="translate(20.40,255.20) rotate(-90)" font-size="10.6" text-anchor="middle" stroke-width="0.0" >Survival rate (%)</text>
<text transform="translate(126.00,338.60) scale(1,1.06)" font-size="10" text-anchor="middle" stroke-width="0.0" >Days post infection</text>
<polyline points="46.40,204.50 205.30,204.50" fill="none" stroke="#a8a8a8" stroke-width="0.9" stroke-linejoin="round" />
<polyline points="46.40,204.50 205.30,204.50" fill="none" stroke="#333" stroke-width="0.85" stroke-linejoin="round" stroke-dasharray="2.6,1.3"/>
<polyline points="46.40,204.50 57.75,208.70 69.10,213.52 91.80,216.04 103.15,218.14 205.30,218.14" fill="none" stroke="#bb80ff" stroke-width="0.72" stroke-linejoin="round" />
<line x1="57.75" y1="205.13" x2="57.75" y2="212.26" stroke="#bb80ff" stroke-width="0.75" />
<line x1="55.95" y1="205.13" x2="59.55" y2="205.13" stroke="#bb80ff" stroke-width="0.75" />
<line x1="55.95" y1="212.26" x2="59.55" y2="212.26" stroke="#bb80ff" stroke-width="0.75" />
<line x1="69.10" y1="209.01" x2="69.10" y2="218.03" stroke="#bb80ff" stroke-width="0.75" />
<line x1="67.30" y1="209.01" x2="70.90" y2="209.01" stroke="#bb80ff" stroke-width="0.75" />
<line x1="67.30" y1="218.03" x2="70.90" y2="218.03" stroke="#bb80ff" stroke-width="0.75" />
<line x1="91.80" y1="211.11" x2="91.80" y2="220.97" stroke="#bb80ff" stroke-width="0.75" />
<line x1="90.00" y1="211.11" x2="93.60" y2="211.11" stroke="#bb80ff" stroke-width="0.75" />
<line x1="90.00" y1="220.97" x2="93.60" y2="220.97" stroke="#bb80ff" stroke-width="0.75" />
<line x1="103.15" y1="212.68" x2="103.15" y2="223.59" stroke="#bb80ff" stroke-width="0.75" />
<line x1="101.35" y1="212.68" x2="104.95" y2="212.68" stroke="#bb80ff" stroke-width="0.75" />
<line x1="101.35" y1="223.59" x2="104.95" y2="223.59" stroke="#bb80ff" stroke-width="0.75" />
<polyline points="46.40,204.50 57.75,229.99 69.10,246.46 80.45,255.90 91.80,267.65 103.15,274.68 205.30,274.68" fill="none" stroke="#ff4f86" stroke-width="0.72" stroke-linejoin="round" />
<line x1="57.75" y1="223.38" x2="57.75" y2="236.60" stroke="#ff6f9c" stroke-width="0.75" />
<line x1="55.95" y1="223.38" x2="59.55" y2="223.38" stroke="#ff6f9c" stroke-width="0.75" />
<line x1="55.95" y1="236.60" x2="59.55" y2="236.60" stroke="#ff6f9c" stroke-width="0.75" />
<line x1="69.10" y1="238.17" x2="69.10" y2="254.75" stroke="#ff6f9c" stroke-width="0.75" />
<line x1="67.30" y1="238.17" x2="70.90" y2="238.17" stroke="#ff6f9c" stroke-width="0.75" />
<line x1="67.30" y1="254.75" x2="70.90" y2="254.75" stroke="#ff6f9c" stroke-width="0.75" />
<line x1="80.45" y1="248.14" x2="80.45" y2="263.66" stroke="#ff6f9c" stroke-width="0.75" />
<line x1="78.65" y1="248.14" x2="82.25" y2="248.14" stroke="#ff6f9c" stroke-width="0.75" />
<line x1="78.65" y1="263.66" x2="82.25" y2="263.66" stroke="#ff6f9c" stroke-width="0.75" />
<line x1="91.80" y1="259.89" x2="91.80" y2="275.41" stroke="#ff6f9c" stroke-width="0.75" />
<line x1="90.00" y1="259.89" x2="93.60" y2="259.89" stroke="#ff6f9c" stroke-width="0.75" />
<line x1="90.00" y1="275.41" x2="93.60" y2="275.41" stroke="#ff6f9c" stroke-width="0.75" />
<line x1="103.15" y1="267.34" x2="103.15" y2="282.02" stroke="#ff6f9c" stroke-width="0.75" />
<line x1="101.35" y1="267.34" x2="104.95" y2="267.34" stroke="#ff6f9c" stroke-width="0.75" />
<line x1="101.35" y1="282.02" x2="104.95" y2="282.02" stroke="#ff6f9c" stroke-width="0.75" />
<rect x="55.95" y="206.90" width="3.60" height="3.60" fill="#b46cff"/>
<rect x="67.30" y="211.72" width="3.60" height="3.60" fill="#b46cff"/>
<rect x="90.00" y="214.24" width="3.60" height="3.60" fill="#b46cff"/>
<rect x="101.35" y="216.34" width="3.60" height="3.60" fill="#b46cff"/>
<rect x="203.50" y="216.34" width="3.60" height="3.60" fill="#b46cff"/>
<rect x="55.95" y="228.19" width="3.60" height="3.60" fill="#f81e62"/>
<rect x="67.30" y="244.66" width="3.60" height="3.60" fill="#f81e62"/>
<rect x="78.65" y="254.10" width="3.60" height="3.60" fill="#f81e62"/>
<rect x="90.00" y="265.85" width="3.60" height="3.60" fill="#f81e62"/>
<rect x="101.35" y="272.88" width="3.60" height="3.60" fill="#f81e62"/>
<rect x="203.50" y="272.88" width="3.60" height="3.60" fill="#f81e62"/>
<polygon points="205.30,206.78 203.40,203.07 207.20,203.07" fill="#4b21a3"/>
<polygon points="205.30,202.22 203.40,205.93 207.20,205.93" fill="#2f7f72"/>
<circle cx="205.30" cy="204.50" r="1.80" fill="#000"/>
<line x1="115.80" y1="224.70" x2="127.00" y2="224.70" stroke="#000000" stroke-width="0.9" stroke-dasharray="1.7,1.0"/>
<circle cx="121.40" cy="224.70" r="1.60" fill="#000000"/>
<text transform="translate(133.60,227.90) scale(1,1.07)" font-size="8.5" text-anchor="start" stroke-width="0.14" >PBS</text>
<line x1="115.80" y1="236.80" x2="127.00" y2="236.80" stroke="#3a9284" stroke-width="0.9" />
<polygon points="121.40,234.88 119.80,238.00 123.00,238.00" fill="#2f7f72"/>
<text transform="translate(133.60,240.00) scale(1,1.07)" font-size="8.5" text-anchor="start" stroke-width="0.14" >&#916;<tspan font-style="italic">aroA</tspan>&#160; 10<tspan dy="-2.4" font-size="6.3">6</tspan></text>
<line x1="115.80" y1="247.90" x2="127.00" y2="247.90" stroke="#4b21a3" stroke-width="0.9" />
<polygon points="121.40,249.82 119.80,246.70 123.00,246.70" fill="#4b21a3"/>
<text transform="translate(133.60,251.10) scale(1,1.07)" font-size="8.5" text-anchor="start" stroke-width="0.14" >&#916;<tspan font-style="italic">aroA</tspan>&#160; 10<tspan dy="-2.4" font-size="6.3">7</tspan></text>
<line x1="115.80" y1="260.00" x2="127.00" y2="260.00" stroke="#b46cff" stroke-width="0.9" />
<rect x="119.60" y="258.20" width="3.60" height="3.60" fill="#b46cff"/>
<text transform="translate(133.60,263.20) scale(1,1.07)" font-size="8.5" text-anchor="start" stroke-width="0.14" >&#916;<tspan font-style="italic">aroA</tspan>&#160; 10<tspan dy="-2.4" font-size="6.3">8</tspan></text>
<line x1="115.90" y1="284.50" x2="126.50" y2="284.50" stroke="#ff4f86" stroke-width="0.9" />
<rect x="119.40" y="282.70" width="3.60" height="3.60" fill="#f81e62"/>
<text transform="translate(133.60,287.70) scale(1,1.07)" font-size="8.5" text-anchor="start" stroke-width="0.14" >GD201008-001 10<tspan dy="-2.4" font-size="6.3">8</tspan></text>
<text transform="translate(254.70,188.90) scale(1,1.02)" font-size="13.5" text-anchor="start" stroke-width="0.04" >D</text>
<line x1="308.30" y1="203.80" x2="308.30" y2="310.20" stroke="#000" stroke-width="1.35" />
<line x1="307.70" y1="309.60" x2="467.10" y2="309.60" stroke="#000" stroke-width="1.35" />
<line x1="303.70" y1="309.60" x2="308.30" y2="309.60" stroke="#000" stroke-width="1.15" />
<text transform="translate(301.60,312.53) scale(1,1.05)" font-size="8.2" text-anchor="end" stroke-width="0.14" >0</text>
<line x1="303.70" y1="299.08" x2="308.30" y2="299.08" stroke="#000" stroke-width="1.15" />
<text transform="translate(301.60,302.01) scale(1,1.05)" font-size="8.2" text-anchor="end" stroke-width="0.14" >10</text>
<line x1="303.70" y1="288.56" x2="308.30" y2="288.56" stroke="#000" stroke-width="1.15" />
<text transform="translate(301.60,291.49) scale(1,1.05)" font-size="8.2" text-anchor="end" stroke-width="0.14" >20</text>
<line x1="303.70" y1="278.04" x2="308.30" y2="278.04" stroke="#000" stroke-width="1.15" />
<text transform="translate(301.60,280.97) scale(1,1.05)" font-size="8.2" text-anchor="end" stroke-width="0.14" >30</text>
<line x1="303.70" y1="267.52" x2="308.30" y2="267.52" stroke="#000" stroke-width="1.15" />
<text transform="translate(301.60,270.45) scale(1,1.05)" font-size="8.2" text-anchor="end" stroke-width="0.14" >40</text>
<line x1="303.70" y1="257.00" x2="308.30" y2="257.00" stroke="#000" stroke-width="1.15" />
<text transform="translate(301.60,259.93) scale(1,1.05)" font-size="8.2" text-anchor="end" stroke-width="0.14" >50</text>
<line x1="303.70" y1="246.48" x2="308.30" y2="246.48" stroke="#000" stroke-width="1.15" />
<text transform="translate(301.60,249.41) scale(1,1.05)" font-size="8.2" text-anchor="end" stroke-width="0.14" >60</text>
<line x1="303.70" y1="235.96" x2="308.30" y2="235.96" stroke="#000" stroke-width="1.15" />
<text transform="translate(301.60,238.89) scale(1,1.05)" font-size="8.2" text-anchor="end" stroke-width="0.14" >70</text>
<line x1="303.70" y1="225.44" x2="308.30" y2="225.44" stroke="#000" stroke-width="1.15" />
<text transform="translate(301.60,228.37) scale(1,1.05)" font-size="8.2" text-anchor="end" stroke-width="0.14" >80</text>
<line x1="303.70" y1="214.92" x2="308.30" y2="214.92" stroke="#000" stroke-width="1.15" />
<text transform="translate(301.60,217.85) scale(1,1.05)" font-size="8.2" text-anchor="end" stroke-width="0.14" >90</text>
<line x1="303.70" y1="204.40" x2="308.30" y2="204.40" stroke="#000" stroke-width="1.15" />
<text transform="translate(301.60,207.33) scale(1,1.05)" font-size="8.2" text-anchor="end" stroke-width="0.14" >100</text>
<line x1="308.30" y1="309.60" x2="308.30" y2="314.40" stroke="#000" stroke-width="1.15" />
<text transform="translate(308.30,324.00) scale(1,1.05)" font-size="8.2" text-anchor="middle" stroke-width="0.14" >0</text>
<line x1="319.60" y1="309.60" x2="319.60" y2="314.40" stroke="#000" stroke-width="1.15" />
<text transform="translate(319.60,324.00) scale(1,1.05)" font-size="8.2" text-anchor="middle" stroke-width="0.14" >1</text>
<line x1="330.90" y1="309.60" x2="330.90" y2="314.40" stroke="#000" stroke-width="1.15" />
<text transform="translate(330.90,324.00) scale(1,1.05)" font-size="8.2" text-anchor="middle" stroke-width="0.14" >2</text>
<line x1="342.20" y1="309.60" x2="342.20" y2="314.40" stroke="#000" stroke-width="1.15" />
<text transform="translate(342.20,324.00) scale(1,1.05)" font-size="8.2" text-anchor="middle" stroke-width="0.14" >3</text>
<line x1="353.50" y1="309.60" x2="353.50" y2="314.40" stroke="#000" stroke-width="1.15" />
<text transform="translate(353.50,324.00) scale(1,1.05)" font-size="8.2" text-anchor="middle" stroke-width="0.14" >4</text>
<line x1="364.80" y1="309.60" x2="364.80" y2="314.40" stroke="#000" stroke-width="1.15" />
<text transform="translate(364.80,324.00) scale(1,1.05)" font-size="8.2" text-anchor="middle" stroke-width="0.14" >5</text>
<line x1="376.10" y1="309.60" x2="376.10" y2="314.40" stroke="#000" stroke-width="1.15" />
<text transform="translate(376.10,324.00) scale(1,1.05)" font-size="8.2" text-anchor="middle" stroke-width="0.14" >6</text>
<line x1="387.40" y1="309.60" x2="387.40" y2="314.40" stroke="#000" stroke-width="1.15" />
<text transform="translate(387.40,324.00) scale(1,1.05)" font-size="8.2" text-anchor="middle" stroke-width="0.14" >7</text>
<line x1="398.70" y1="309.60" x2="398.70" y2="314.40" stroke="#000" stroke-width="1.15" />
<text transform="translate(398.70,324.00) scale(1,1.05)" font-size="8.2" text-anchor="middle" stroke-width="0.14" >8</text>
<line x1="410.00" y1="309.60" x2="410.00" y2="314.40" stroke="#000" stroke-width="1.15" />
<text transform="translate(410.00,324.00) scale(1,1.05)" font-size="8.2" text-anchor="middle" stroke-width="0.14" >9</text>
<line x1="421.30" y1="309.60" x2="421.30" y2="314.40" stroke="#000" stroke-width="1.15" />
<text transform="translate(421.30,324.00) scale(1,1.05)" font-size="8.2" text-anchor="middle" stroke-width="0.14" >10</text>
<line x1="432.60" y1="309.60" x2="432.60" y2="314.40" stroke="#000" stroke-width="1.15" />
<text transform="translate(432.60,324.00) scale(1,1.05)" font-size="8.2" text-anchor="middle" stroke-width="0.14" >11</text>
<line x1="443.90" y1="309.60" x2="443.90" y2="314.40" stroke="#000" stroke-width="1.15" />
<text transform="translate(443.90,324.00) scale(1,1.05)" font-size="8.2" text-anchor="middle" stroke-width="0.14" >12</text>
<line x1="455.20" y1="309.60" x2="455.20" y2="314.40" stroke="#000" stroke-width="1.15" />
<text transform="translate(455.20,324.00) scale(1,1.05)" font-size="8.2" text-anchor="middle" stroke-width="0.14" >13</text>
<line x1="466.50" y1="309.60" x2="466.50" y2="314.40" stroke="#000" stroke-width="1.15" />
<text transform="translate(466.50,324.00) scale(1,1.05)" font-size="8.2" text-anchor="middle" stroke-width="0.14" >14</text>
<text transform="translate(283.30,255.50) rotate(-90)" font-size="10.4" text-anchor="middle" stroke-width="0.0" >Survival rate (%)</text>
<text transform="translate(387.70,338.60) scale(1,1.06)" font-size="9.9" text-anchor="middle" stroke-width="0.0" >Days post infection</text>
<polyline points="308.30,204.40 319.60,218.50 330.90,232.17 342.20,239.43 353.50,246.48 466.50,246.48" fill="none" stroke="#ff4f86" stroke-width="0.72" stroke-linejoin="round" />
<line x1="319.60" y1="208.82" x2="319.60" y2="228.18" stroke="#ff6f9c" stroke-width="0.75" />
<line x1="317.80" y1="208.82" x2="321.40" y2="208.82" stroke="#ff6f9c" stroke-width="0.75" />
<line x1="317.80" y1="228.18" x2="321.40" y2="228.18" stroke="#ff6f9c" stroke-width="0.75" />
<line x1="330.90" y1="220.29" x2="330.90" y2="244.06" stroke="#ff6f9c" stroke-width="0.75" />
<line x1="329.10" y1="220.29" x2="332.70" y2="220.29" stroke="#ff6f9c" stroke-width="0.75" />
<line x1="329.10" y1="244.06" x2="332.70" y2="244.06" stroke="#ff6f9c" stroke-width="0.75" />
<line x1="342.20" y1="226.28" x2="342.20" y2="252.58" stroke="#ff6f9c" stroke-width="0.75" />
<line x1="340.40" y1="226.28" x2="344.00" y2="226.28" stroke="#ff6f9c" stroke-width="0.75" />
<line x1="340.40" y1="252.58" x2="344.00" y2="252.58" stroke="#ff6f9c" stroke-width="0.75" />
<line x1="353.50" y1="233.54" x2="353.50" y2="259.42" stroke="#ff6f9c" stroke-width="0.75" />
<line x1="351.70" y1="233.54" x2="355.30" y2="233.54" stroke="#ff6f9c" stroke-width="0.75" />
<line x1="351.70" y1="259.42" x2="355.30" y2="259.42" stroke="#ff6f9c" stroke-width="0.75" />
<polyline points="308.30,204.40 319.60,231.44 330.90,238.70 342.20,246.06 353.50,253.32 364.80,260.16 466.50,260.16" fill="none" stroke="#4b21a3" stroke-width="0.72" stroke-linejoin="round" />
<line x1="319.60" y1="218.81" x2="319.60" y2="244.06" stroke="#7d5cc4" stroke-width="0.75" />
<line x1="317.80" y1="218.81" x2="321.40" y2="218.81" stroke="#7d5cc4" stroke-width="0.75" />
<line x1="317.80" y1="244.06" x2="321.40" y2="244.06" stroke="#7d5cc4" stroke-width="0.75" />
<line x1="330.90" y1="224.28" x2="330.90" y2="253.11" stroke="#7d5cc4" stroke-width="0.75" />
<line x1="329.10" y1="224.28" x2="332.70" y2="224.28" stroke="#7d5cc4" stroke-width="0.75" />
<line x1="329.10" y1="253.11" x2="332.70" y2="253.11" stroke="#7d5cc4" stroke-width="0.75" />
<line x1="342.20" y1="231.65" x2="342.20" y2="260.47" stroke="#7d5cc4" stroke-width="0.75" />
<line x1="340.40" y1="231.65" x2="344.00" y2="231.65" stroke="#7d5cc4" stroke-width="0.75" />
<line x1="340.40" y1="260.47" x2="344.00" y2="260.47" stroke="#7d5cc4" stroke-width="0.75" />
<line x1="353.50" y1="238.80" x2="353.50" y2="267.84" stroke="#7d5cc4" stroke-width="0.75" />
<line x1="351.70" y1="238.80" x2="355.30" y2="238.80" stroke="#7d5cc4" stroke-width="0.75" />
<line x1="351.70" y1="267.84" x2="355.30" y2="267.84" stroke="#7d5cc4" stroke-width="0.75" />
<line x1="364.80" y1="245.95" x2="364.80" y2="274.36" stroke="#7d5cc4" stroke-width="0.75" />
<line x1="363.00" y1="245.95" x2="366.60" y2="245.95" stroke="#7d5cc4" stroke-width="0.75" />
<line x1="363.00" y1="274.36" x2="366.60" y2="274.36" stroke="#7d5cc4" stroke-width="0.75" />
<polyline points="308.30,204.40 319.60,260.47 330.90,274.46 342.20,288.35 466.50,288.35" fill="none" stroke="#000000" stroke-width="0.72" stroke-linejoin="round" />
<line x1="319.60" y1="247.22" x2="319.60" y2="273.73" stroke="#666" stroke-width="0.75" />
<line x1="317.80" y1="247.22" x2="321.40" y2="247.22" stroke="#666" stroke-width="0.75" />
<line x1="317.80" y1="273.73" x2="321.40" y2="273.73" stroke="#666" stroke-width="0.75" />
<line x1="330.90" y1="261.63" x2="330.90" y2="287.30" stroke="#666" stroke-width="0.75" />
<line x1="329.10" y1="261.63" x2="332.70" y2="261.63" stroke="#666" stroke-width="0.75" />
<line x1="329.10" y1="287.30" x2="332.70" y2="287.30" stroke="#666" stroke-width="0.75" />
<line x1="342.20" y1="277.62" x2="342.20" y2="299.08" stroke="#666" stroke-width="0.75" />
<line x1="340.40" y1="277.62" x2="344.00" y2="277.62" stroke="#666" stroke-width="0.75" />
<line x1="340.40" y1="299.08" x2="344.00" y2="299.08" stroke="#666" stroke-width="0.75" />
<polyline points="308.30,204.40 319.60,274.67 330.90,296.03 342.20,302.97 466.50,302.97" fill="none" stroke="#3a9284" stroke-width="0.72" stroke-linejoin="round" />
<line x1="319.60" y1="262.47" x2="319.60" y2="286.88" stroke="#6fb3a9" stroke-width="0.75" />
<line x1="317.80" y1="262.47" x2="321.40" y2="262.47" stroke="#6fb3a9" stroke-width="0.75" />
<line x1="317.80" y1="286.88" x2="321.40" y2="286.88" stroke="#6fb3a9" stroke-width="0.75" />
<line x1="330.90" y1="286.77" x2="330.90" y2="305.29" stroke="#6fb3a9" stroke-width="0.75" />
<line x1="329.10" y1="286.77" x2="332.70" y2="286.77" stroke="#6fb3a9" stroke-width="0.75" />
<line x1="329.10" y1="305.29" x2="332.70" y2="305.29" stroke="#6fb3a9" stroke-width="0.75" />
<line x1="342.20" y1="294.56" x2="342.20" y2="309.60" stroke="#6fb3a9" stroke-width="0.75" />
<line x1="340.40" y1="294.56" x2="344.00" y2="294.56" stroke="#6fb3a9" stroke-width="0.75" />
<line x1="340.40" y1="309.60" x2="344.00" y2="309.60" stroke="#6fb3a9" stroke-width="0.75" />
<rect x="317.85" y="216.75" width="3.50" height="3.50" fill="#f81e62"/>
<rect x="329.15" y="230.42" width="3.50" height="3.50" fill="#f81e62"/>
<rect x="340.45" y="237.68" width="3.50" height="3.50" fill="#f81e62"/>
<rect x="351.75" y="244.73" width="3.50" height="3.50" fill="#f81e62"/>
<rect x="464.75" y="244.73" width="3.50" height="3.50" fill="#f81e62"/>
<polygon points="319.60,233.24 318.10,230.31 321.10,230.31" fill="#4b21a3"/>
<polygon points="330.90,240.50 329.40,237.57 332.40,237.57" fill="#4b21a3"/>
<polygon points="342.20,247.86 340.70,244.93 343.70,244.93" fill="#4b21a3"/>
<polygon points="353.50,255.12 352.00,252.19 355.00,252.19" fill="#4b21a3"/>
<polygon points="364.80,261.96 363.30,259.03 366.30,259.03" fill="#4b21a3"/>
<polygon points="466.50,261.96 465.00,259.03 468.00,259.03" fill="#4b21a3"/>
<circle cx="319.60" cy="260.47" r="1.70" fill="#000000"/>
<circle cx="330.90" cy="274.46" r="1.70" fill="#000000"/>
<circle cx="342.20" cy="288.35" r="1.70" fill="#000000"/>
<circle cx="466.50" cy="288.35" r="1.70" fill="#000000"/>
<polygon points="319.60,272.99 318.20,275.72 321.00,275.72" fill="#2f7f72"/>
<polygon points="330.90,294.35 329.50,297.08 332.30,297.08" fill="#2f7f72"/>
<polygon points="342.20,301.29 340.80,304.02 343.60,304.02" fill="#2f7f72"/>
<polygon points="466.50,301.29 465.10,304.02 467.90,304.02" fill="#2f7f72"/>
<rect x="475.0" y="207.8" width="208.29999999999995" height="81.59999999999997" fill="none" stroke="#000" stroke-width="1.1"/>
<line x1="475.00" y1="229.00" x2="683.30" y2="229.00" stroke="#111" stroke-width="1.2" />
<text transform="translate(477.00,220.60) scale(1,1.08)" font-size="8.5" text-anchor="start" stroke-width="0.14" >Vaccination&#160;&#160;group</text>
<text transform="translate(572.30,215.40) scale(1,1.08)" font-size="8.5" text-anchor="middle" stroke-width="0.14" >Challenge dose</text>
<text transform="translate(572.30,225.70) scale(1,1.08)" font-size="8.5" text-anchor="middle" stroke-width="0.14" >(CFU/fish)</text>
<text transform="translate(629.40,220.60) scale(1,1.08)" font-size="8.5" text-anchor="middle" stroke-width="0.14" >Challenge strain</text>
<text transform="translate(670.00,215.40) scale(1,1.08)" font-size="8.5" text-anchor="middle" stroke-width="0.14" >RPS</text>
<text transform="translate(670.00,225.70) scale(1,1.08)" font-size="8.5" text-anchor="middle" stroke-width="0.14" >(%)</text>
<line x1="478.30" y1="236.90" x2="488.90" y2="236.90" stroke="#222" stroke-width="0.9" />
<circle cx="483.50" cy="236.90" r="1.60" fill="#000000"/>
<text transform="translate(496.40,239.50) scale(1,1.08)" font-size="8.5" text-anchor="start" stroke-width="0.14" >PBS</text>
<text transform="translate(572.00,239.50) scale(1,1.08)" font-size="8.5" text-anchor="middle" stroke-width="0.14" >10<tspan dy="-2.4" font-size="6.1">7</tspan></text>
<text transform="translate(627.90,239.50) scale(1,1.08)" font-size="8.5" text-anchor="middle" stroke-width="0.14" >GD201008-001</text>
<text transform="translate(670.00,239.50) scale(1,1.08)" font-size="8.5" text-anchor="middle" stroke-width="0.14" >0</text>
<line x1="478.30" y1="251.90" x2="488.90" y2="251.90" stroke="#ff9fc0" stroke-width="0.9" />
<rect x="481.90" y="250.30" width="3.20" height="3.20" fill="#f81e62"/>
<text transform="translate(496.40,254.50) scale(1,1.08)" font-size="8.5" text-anchor="start" stroke-width="0.14" >&#916;<tspan font-style="italic">aroA</tspan>&#160; 10<tspan dy="-2.4" font-size="6.1">7</tspan></text>
<text transform="translate(572.00,254.50) scale(1,1.08)" font-size="8.5" text-anchor="middle" stroke-width="0.14" >10<tspan dy="-2.4" font-size="6.1">7</tspan></text>
<text transform="translate(627.90,254.50) scale(1,1.08)" font-size="8.5" text-anchor="middle" stroke-width="0.14" >GD201008-001</text>
<text transform="translate(670.00,254.50) scale(1,1.08)" font-size="8.5" text-anchor="middle" stroke-width="0.14" >50</text>
<line x1="478.30" y1="266.70" x2="488.90" y2="266.70" stroke="#86c6bc" stroke-width="0.9" />
<polygon points="483.50,264.78 481.90,267.90 485.10,267.90" fill="#2f7f72"/>
<text transform="translate(496.40,269.30) scale(1,1.08)" font-size="8.5" text-anchor="start" stroke-width="0.14" >PBS</text>
<text transform="translate(572.00,269.30) scale(1,1.08)" font-size="8.5" text-anchor="middle" stroke-width="0.14" >10<tspan dy="-2.4" font-size="6.1">7</tspan></text>
<text transform="translate(627.90,269.30) scale(1,1.08)" font-size="8.5" text-anchor="middle" stroke-width="0.14" >BH4</text>
<text transform="translate(670.00,269.30) scale(1,1.08)" font-size="8.5" text-anchor="middle" stroke-width="0.14" >0</text>
<line x1="478.30" y1="281.40" x2="488.90" y2="281.40" stroke="#8f78cc" stroke-width="0.9" />
<polygon points="483.50,283.32 481.90,280.20 485.10,280.20" fill="#4b21a3"/>
<text transform="translate(496.40,284.00) scale(1,1.08)" font-size="8.5" text-anchor="start" stroke-width="0.14" >&#916;<tspan font-style="italic">aroA</tspan>&#160; 10<tspan dy="-2.4" font-size="6.1">7</tspan></text>
<text transform="translate(572.00,284.00) scale(1,1.08)" font-size="8.5" text-anchor="middle" stroke-width="0.14" >10<tspan dy="-2.4" font-size="6.1">7</tspan></text>
<text transform="translate(627.90,284.00) scale(1,1.08)" font-size="8.5" text-anchor="middle" stroke-width="0.14" >BH4</text>
<text transform="translate(670.00,284.00) scale(1,1.08)" font-size="8.5" text-anchor="middle" stroke-width="0.14" >42.86</text>
</svg></body></html>
